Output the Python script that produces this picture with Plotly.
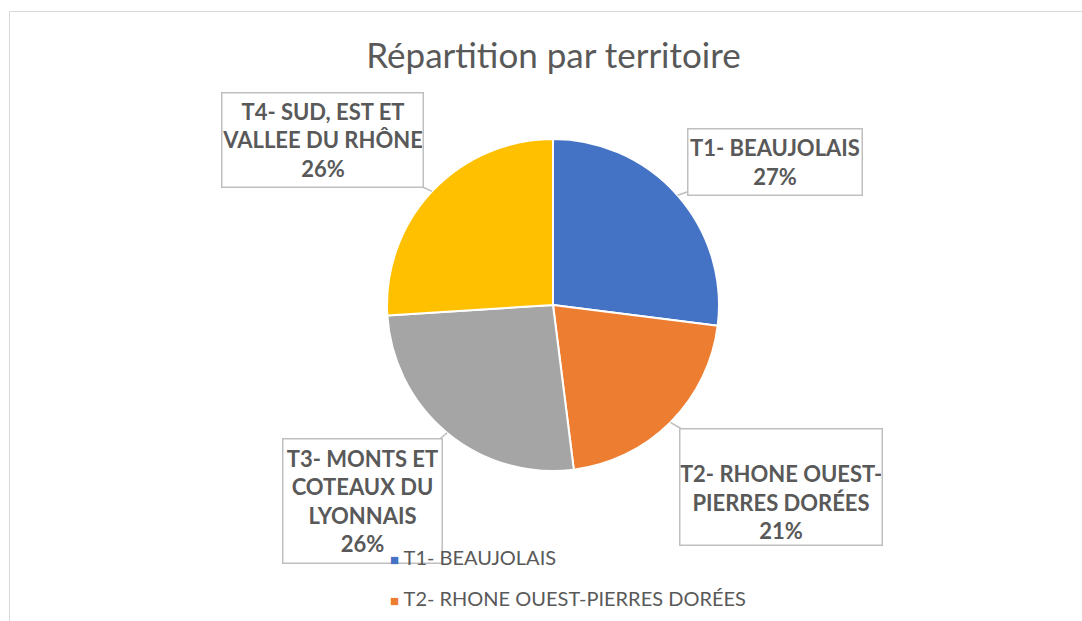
import math
import plotly.graph_objects as go

# ---- data ----
labels = ["T1- BEAUJOLAIS", "T2- RHONE OUEST-PIERRES DORÉES",
          "T3- MONTS ET COTEAUX DU LYONNAIS", "T4- SUD, EST ET VALLEE DU RHÔNE"]
box_texts = ["T1- BEAUJOLAIS", "T2- RHONE OUEST-<br>PIERRES DORÉES",
             "T3- MONTS ET<br>COTEAUX DU<br>LYONNAIS", "T4- SUD, EST ET<br>VALLEE DU RHÔNE"]
values = [27, 21, 26, 26]
colors = ["#4472C4", "#ED7D31", "#A5A5A5", "#FFC000"]
title_text = "Répartition par territoire"

# ---- layout constants ----
W, H = 1082, 621
pie_cx, pie_cy, pie_r = 553, 305, 166
dom_x = [(pie_cx - pie_r) / W, (pie_cx + pie_r) / W]
dom_y = [1 - (pie_cy + pie_r) / H, 1 - (pie_cy - pie_r) / H]

# label box centres and sizes (pixels)
box_centers = [(775, 162), (781, 487), (362.5, 501), (322.5, 140)]
box_sizes = [(176, 68), (204, 118), (161, 126), (203, 96)]
box_valign = ["middle", "bottom", "middle", "middle"]

TXT = "#595959"
FONT = "Lato"

fig = go.Figure(go.Pie(
    labels=labels, values=values, sort=False, direction="clockwise", rotation=0,
    marker=dict(colors=colors, line=dict(color="white", width=2)),
    textinfo="none", domain=dict(x=dom_x, y=dom_y), showlegend=False,
))

annotations = []
total = sum(values)
cum = 0
for i, v in enumerate(values):
    mid = (cum + v / 2) / total * 2 * math.pi
    cum += v
    px = pie_cx + pie_r * math.sin(mid)
    py = pie_cy - pie_r * math.cos(mid)
    bx, by = box_centers[i]
    bw, bh = box_sizes[i]
    pct = round(v / total * 100)
    annotations.append(dict(
        x=px / W, y=1 - py / H, xref="paper", yref="paper",
        ax=bx - px, ay=by - py,
        text=f"<b>{box_texts[i]}<br>{pct}%</b>",
        showarrow=True, arrowhead=0, arrowwidth=1.5, arrowcolor="#BFBFBF",
        bgcolor="white", bordercolor="#BFBFBF", borderwidth=1.5, borderpad=0,
        width=bw - 3, height=bh - 3, valign=box_valign[i], align="center",
        font=dict(family=FONT, size=22, color=TXT),
    ))

# legend (vertical, bottom; entries below the canvas edge are not visible, as in reference)
leg_x, leg_y0, leg_dy = 388, 557, 41
for i, lab in enumerate(labels):
    ly = leg_y0 + i * leg_dy
    if ly + 10 > H:
        continue
    annotations.append(dict(
        x=leg_x / W, y=1 - ly / H, xref="paper", yref="paper",
        xanchor="left", yanchor="middle", showarrow=False,
        text=f"<span style='color:{colors[i]};font-size:15px'>■</span> {lab}",
        font=dict(family=FONT, size=20, color=TXT),
    ))

fig.update_layout(
    width=W, height=H, margin=dict(l=0, r=0, t=0, b=0),
    paper_bgcolor="white", plot_bgcolor="white",
    title=dict(text=title_text, x=553.5 / W, xanchor="center", y=1 - 56 / H, yanchor="middle",
               font=dict(family=FONT, size=35, color=TXT)),
    annotations=annotations,
    shapes=[dict(type="rect", xref="paper", yref="paper",
                 x0=9.5 / W, x1=1.05, y0=-0.05, y1=1 - 11.5 / H,
                 line=dict(color="#D9D9D9", width=1), layer="below")],
)

fig.write_html("out.html", config={"displayModeBar": False},
               post_script="document.body.style.margin='0';")
